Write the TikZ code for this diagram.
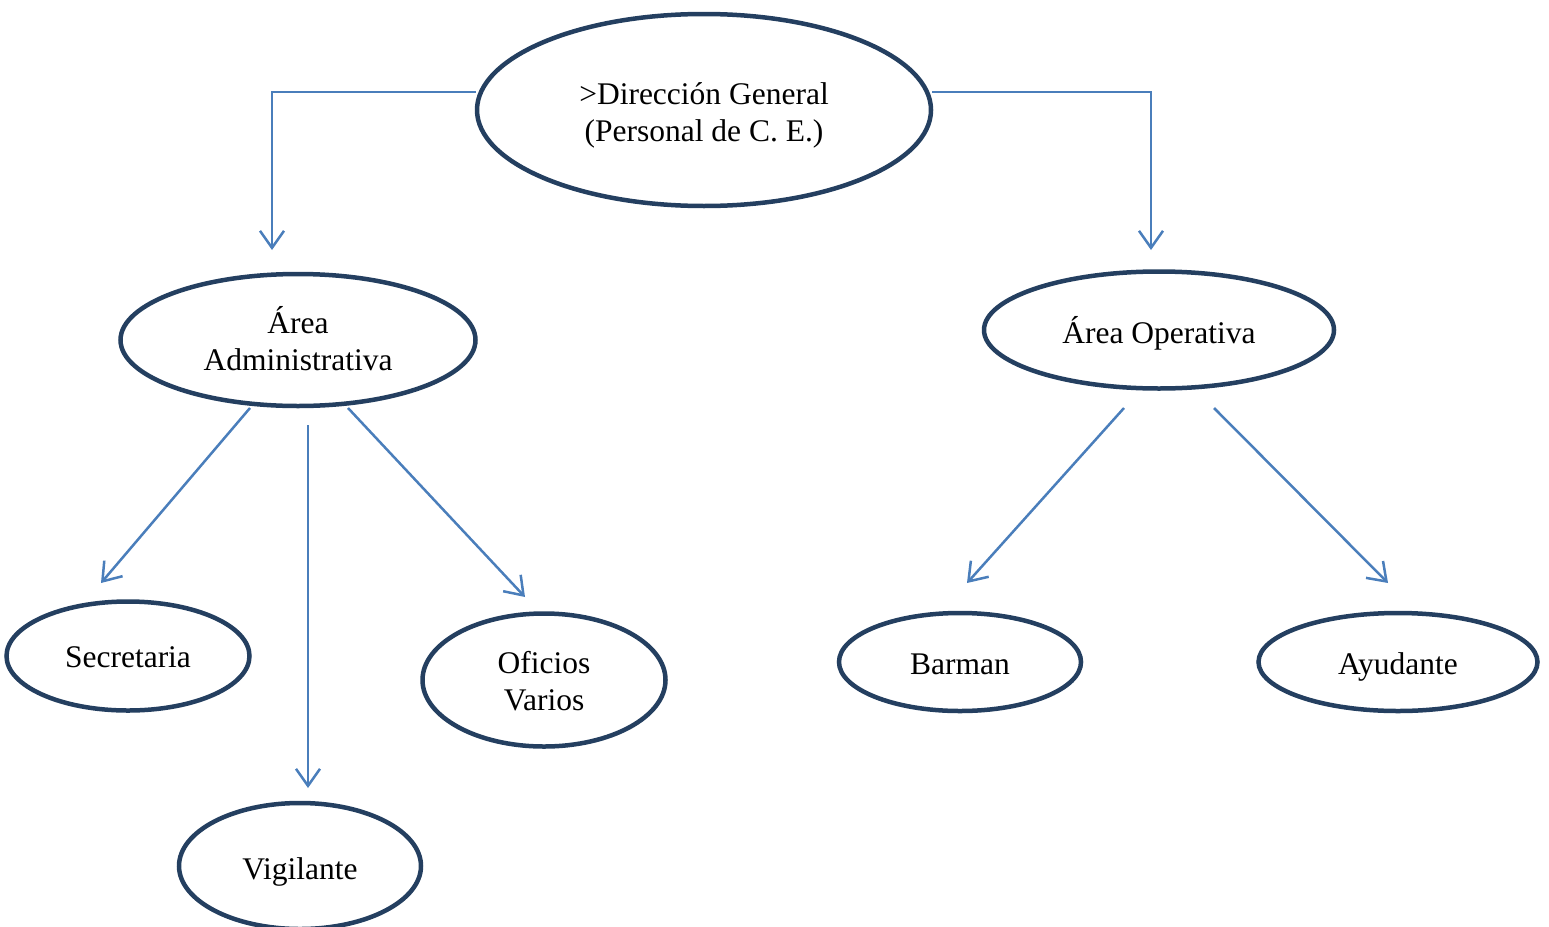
\documentclass[tikz,border=0pt]{standalone}
\usepackage{fontspec}
\setmainfont{Liberation Serif}
\usetikzlibrary{shapes.geometric,arrows.meta}
\definecolor{navy}{HTML}{243F60}
\definecolor{arrowblue}{HTML}{4A7EBB}
\newcommand\lowtxt[2]{\raisebox{-#1}[\height][\depth]{\begin{tabular}{@{}c@{}}#2\end{tabular}}}
\tikzset{
  unit/.style={ellipse, draw=navy, line width=4.5pt, fill=white, inner sep=0pt,
    font=\fontsize{31.5}{37}\selectfont, text=black},
  conn/.style={draw=arrowblue, line width=2.5pt, -{Straight Barb[length=17pt,width=24pt,line width=2.5pt]}}
}
\begin{document}
\begin{tikzpicture}[x=1pt,y=-1pt]
\useasboundingbox (0,0) rectangle (1549,926);
\node[unit, minimum width=454pt, minimum height=192pt] (dir) at (704,110) {\lowtxt{6pt}{>Dirección General\\(Personal de C. E.)}};
\node[unit, minimum width=355pt, minimum height=132pt] (adm) at (298,340) {\lowtxt{4pt}{Área\\Administrativa}};
\node[unit, minimum width=350pt, minimum height=117pt] (ope) at (1159,330) {\lowtxt{6pt}{Área Operativa}};
\node[unit, minimum width=243pt, minimum height=109pt] (sec) at (128,656) {\lowtxt{4pt}{Secretaria}};
\node[unit, minimum width=243pt, minimum height=133pt] (ofi) at (544,680) {\lowtxt{5pt}{Oficios\\Varios}};
\node[unit, minimum width=242pt, minimum height=126pt] (vig) at (300,866) {\lowtxt{6pt}{Vigilante}};
\node[unit, minimum width=242pt, minimum height=98pt] (bar) at (960,662) {\lowtxt{5pt}{Barman}};
\node[unit, minimum width=279pt, minimum height=98pt] (ayu) at (1398,662) {\lowtxt{5pt}{Ayudante}};
% connector ends
\coordinate (dL) at (476,92);
\coordinate (dLt) at (272,250);
\coordinate (dR) at (932,92);
\coordinate (dRt) at (1151,250);
\coordinate (a1) at (250,408);
\coordinate (a1t) at (101,583);
\coordinate (a2) at (308,425);
\coordinate (a2t) at (308,788);
\coordinate (a3) at (348,408);
\coordinate (a3t) at (525,597);
\coordinate (o1) at (1124,408);
\coordinate (o1t) at (967,583);
\coordinate (o2) at (1214,408);
\coordinate (o2t) at (1388,583);
\draw[conn, line width=1.6pt] (dL) -| (dLt);
\draw[conn, line width=1.6pt] (dR) -| (dRt);
\draw[conn] (a1) -- (a1t);
\draw[conn] (a2) -- (a2t);
\draw[conn] (a3) -- (a3t);
\draw[conn] (o1) -- (o1t);
\draw[conn] (o2) -- (o2t);
\end{tikzpicture}
\end{document}
